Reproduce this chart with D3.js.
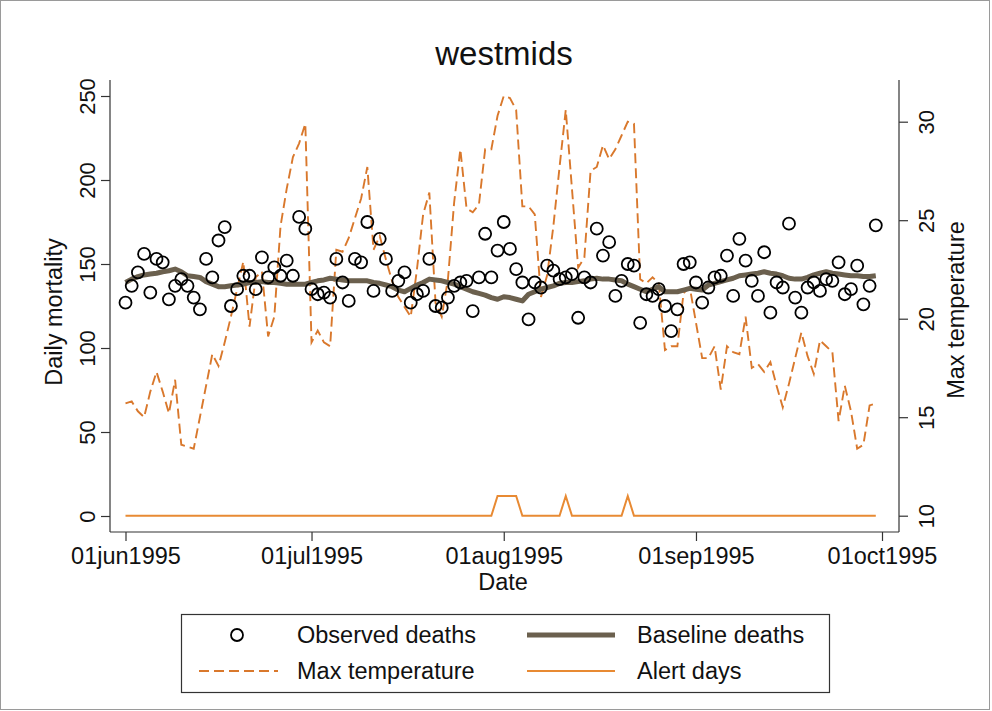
<!DOCTYPE html>
<html><head><meta charset="utf-8">
<script src="https://cdn.jsdelivr.net/npm/d3@7"></script>
<style>body{margin:0;background:#fff}svg{display:block}text{font-family:"Liberation Sans",Arial,sans-serif;fill:#111}</style>
</head><body><svg id="c" width="992" height="711"></svg>
<script>
const startDate = Date.UTC(1995,5,1);
const deaths = [127,137,145,156,133,153,151,129,137,141,
137,130,123,153,142,164,172,125,135,143,
143,135,154,142,148,143,152,143,178,171,
135,132,133,130,153,139,128,153,151,175,
134,165,153,134,140,145,127,132,134,153,
125,124,130,137,139,140,122,142,168,142,
158,175,159,147,139,117,139,136,149,146,
141,142,144,118,142,139,171,155,163,131,
140,150,149,115,132,131,135,125,110,123,
150,151,139,127,136,142,143,155,131,165,
152,140,131,157,121,139,136,174,130,121,
136,139,134,141,140,151,132,135,149,126,137,173];
const baseline = [139,141,142.5,143.5,144,144.5,145.4,146,147,145.4,
143,142.5,142,139.5,138,136.5,136.5,137,137.5,138,
139,139,139.5,139,139,138.5,138,138,138,138,
139,140,140.5,141.5,141,140.5,140,140,140,140,
139,138.5,137.5,136.5,134.5,133.5,135.5,137.5,139,141,
140.5,140,139,138,136.5,135,133.5,132.5,131.5,130,
129,130.5,130,129,128,132,133.5,135,136,137,
138.5,139,139,139.5,140,141,141.5,141,141,140.5,
140,138,136.5,135,133.5,135,136.5,133.5,133.5,133.5,
134.5,135.5,135,134.5,137.5,138.5,139.5,140.5,141.5,143,
143.5,144,144.5,145.4,144.5,144,143,141.5,141,141,
142,143.5,144.5,145.4,144.5,144,143.5,143,143,142.5,142.5,143];
const maxTemp = [15.7,15.8,15.3,15.0,16.3,17.3,16.3,15.2,16.9,13.6,
13.5,13.4,15.0,16.6,18.2,17.6,18.8,20.1,21.5,22.9,
19.6,22.1,22.4,19.1,20.1,24.7,26.6,28.2,28.9,29.9,
18.8,19.4,18.8,18.6,23.5,23.4,24.1,25.1,26.1,27.7,
23.5,24.2,23.0,21.9,21.1,20.6,20.1,22.5,25.3,26.4,
20.8,20.1,22.0,25.9,28.6,25.6,25.4,25.8,28.6,28.6,
30.3,31.3,31.2,30.6,25.7,25.7,25.3,21.1,22.2,24.7,
27.7,30.6,26.6,22.6,23.1,27.5,27.7,28.8,28.1,28.6,
29.3,30.0,29.9,22.0,21.8,22.1,21.8,18.4,18.6,18.6,
21.3,21.6,19.8,18.0,18.0,18.6,16.4,18.6,18.3,18.2,
20.1,17.5,17.7,17.3,17.8,16.6,15.5,16.7,18.0,19.3,
18.1,17.2,18.9,18.6,18.3,14.8,16.6,15.3,13.4,13.6,15.6,15.7];
// alert indicator, drawn on the temperature axis at 10 (no) / 11 (yes)
const alertDays = [0,0,0,0,0,0,0,0,0,0, 0,0,0,0,0,0,0,0,0,0, 0,0,0,0,0,0,0,0,0,0,
0,0,0,0,0,0,0,0,0,0, 0,0,0,0,0,0,0,0,0,0, 0,0,0,0,0,0,0,0,0,0,
1,1,1,1,0,0,0,0,0,0, 0,1,0,0,0,0,0,0,0,0, 0,1,0,0,0,0,0,0,0,0,
0,0,0,0,0,0,0,0,0,0, 0,0,0,0,0,0,0,0,0,0, 0,0,0,0,0,0,0,0,0,0,0,0];
const alertLevels = [10, 11];
const mortTicks = [0,50,100,150,200,250];
const tempTicks = [10,15,20,25,30];
const dateTicks = [Date.UTC(1995,5,1),Date.UTC(1995,6,1),Date.UTC(1995,7,1),Date.UTC(1995,8,1),Date.UTC(1995,9,1)];

const dates = deaths.map((_,i)=>d3.utcDay.offset(new Date(startDate), i));
const svg = d3.select("#c");
const FS = 23.5, FY = 22;
const x = d3.scaleUtc().domain([new Date(dateTicks[0]), new Date(dateTicks[4])]).range([125.5, 882]);
const yL = d3.scaleLinear().domain([0,250]).range([516,96]);
const yR = d3.scaleLinear().domain([10,30]).range([515.7,121.7]);
const fmt = d => d3.utcFormat("%d%b%Y")(d).toLowerCase();

svg.append("rect").attr("x",0.5).attr("y",0.5).attr("width",989).attr("height",709).attr("fill","none").attr("stroke","#9a9a9a");

// axes
const gL = svg.append("g").attr("transform","translate(110,0)")
  .call(d3.axisLeft(yL).tickValues(mortTicks).tickSize(9).tickPadding(0).tickFormat(d3.format("d")));
const gR = svg.append("g").attr("transform","translate(899,0)")
  .call(d3.axisRight(yR).tickValues(tempTicks).tickSize(9).tickPadding(0).tickFormat(d3.format("d")));
const gB = svg.append("g").attr("transform","translate(0,532)")
  .call(d3.axisBottom(x).tickValues(dateTicks.map(d=>new Date(d))).tickSize(9).tickPadding(3).tickFormat(fmt));
[gL,gR,gB].forEach(g=>{
  g.select(".domain").attr("stroke","#333").attr("stroke-width",1.2);
  g.selectAll(".tick line").attr("stroke","#333").attr("stroke-width",1.2);
  g.selectAll("text").attr("font-size",FY).attr("fill","#111").attr("font-family",'"Liberation Sans",Arial,sans-serif');
});
gB.selectAll("text").attr("font-size",FS);
gL.select(".domain").attr("d","M0,80V532");
gR.select(".domain").attr("d","M0,80V532");
gB.select(".domain").attr("d","M110,0H899");
gL.selectAll(".tick text").attr("transform","translate(-23,0) rotate(-90)").attr("text-anchor","middle").attr("x",0).attr("dy","0.35em");
gR.selectAll(".tick text").attr("transform","translate(27,0) rotate(-90)").attr("text-anchor","middle").attr("x",0).attr("dy","0.35em");
gB.selectAll(".tick text").attr("dy","0.85em");

// titles
svg.append("text").attr("x",504).attr("y",65).attr("text-anchor","middle").attr("font-size",33).text("westmids");
svg.append("text").attr("transform","translate(62,312) rotate(-90)").attr("text-anchor","middle").attr("font-size",FS).text("Daily mortality");
svg.append("text").attr("transform","translate(964,310) rotate(-90)").attr("text-anchor","middle").attr("font-size",FS).text("Max temperature");
svg.append("text").attr("x",503).attr("y",590).attr("text-anchor","middle").attr("font-size",FS).text("Date");

// series
const orange = "#d9782c", alertCol = "#e88a33", baseCol = "#6b604e";
svg.append("path").datum(maxTemp).attr("fill","none").attr("stroke",orange).attr("stroke-width",1.9)
  .attr("stroke-dasharray","10,5")
  .attr("d", d3.line().x((d,i)=>x(dates[i])).y(d=>yR(d)));
svg.append("path").datum(alertDays).attr("fill","none").attr("stroke",alertCol).attr("stroke-width",2)
  .attr("d", d3.line().x((d,i)=>x(dates[i])).y(d=>yR(alertLevels[d])));
svg.append("path").datum(baseline).attr("fill","none").attr("stroke",baseCol).attr("stroke-width",5).attr("stroke-linejoin","round")
  .attr("d", d3.line().x((d,i)=>x(dates[i])).y(d=>yL(d)));
svg.append("g").selectAll("circle").data(deaths).join("circle")
  .attr("cx",(d,i)=>x(dates[i])).attr("cy",d=>yL(d)).attr("r",6).attr("fill","none").attr("stroke","#000").attr("stroke-width",1.8);

// legend
const lg = svg.append("g");
lg.append("rect").attr("x",181.5).attr("y",614.5).attr("width",648).attr("height",78).attr("fill","#fff").attr("stroke","#333").attr("stroke-width",1.2);
lg.append("circle").attr("cx",237).attr("cy",635).attr("r",6).attr("fill","none").attr("stroke","#000").attr("stroke-width",1.8);
lg.append("text").attr("x",297).attr("y",635).attr("dy","0.35em").attr("font-size",FS).text("Observed deaths");
lg.append("line").attr("x1",527).attr("x2",615).attr("y1",635).attr("y2",635).attr("stroke",baseCol).attr("stroke-width",5);
lg.append("text").attr("x",637).attr("y",635).attr("dy","0.35em").attr("font-size",FS).text("Baseline deaths");
lg.append("line").attr("x1",199).attr("x2",278).attr("y1",671).attr("y2",671).attr("stroke",orange).attr("stroke-width",1.9).attr("stroke-dasharray","10,5");
lg.append("text").attr("x",297).attr("y",671).attr("dy","0.35em").attr("font-size",FS).text("Max temperature");
lg.append("line").attr("x1",527).attr("x2",615).attr("y1",671).attr("y2",671).attr("stroke",alertCol).attr("stroke-width",2);
lg.append("text").attr("x",637).attr("y",671).attr("dy","0.35em").attr("font-size",FS).text("Alert days");
</script></body></html>
